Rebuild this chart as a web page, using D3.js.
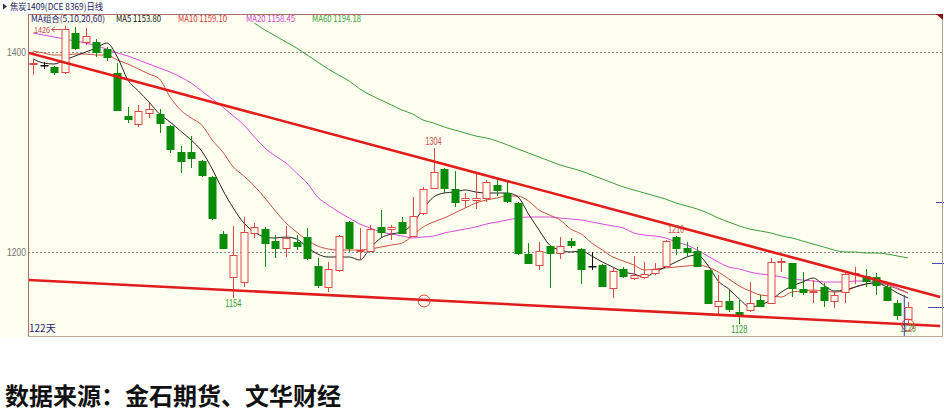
<!DOCTYPE html>
<html>
<head>
<meta charset="utf-8">
<script src="https://cdn.jsdelivr.net/npm/d3@7"></script>
<style>
  body { margin: 0; background: #ffffff; }
  svg { display: block; }
</style>
</head>
<body>
<div id="chart"></div>
<script>
// daily candles
const open = [1388, 1387, 1385, 1380, 1419, 1410, 1410, 1403, 1379, 1336, 1328, 1339, 1338, 1326, 1300, 1300, 1291, 1275, 1218, 1175,
  1170, 1219, 1223, 1211, 1204, 1210, 1215, 1186, 1165, 1182, 1230, 1201, 1201, 1225, 1223, 1230, 1216, 1239, 1264, 1283,
  1263, 1252, 1252, 1254, 1267, 1259, 1249, 1198, 1187, 1206, 1199, 1211, 1203, 1186, 1187, 1164, 1183, 1174, 1175, 1179,
  1186, 1215, 1204, 1201, 1182, 1146, 1151, 1140, 1142, 1152, 1149, 1190, 1189, 1163, 1160, 1165, 1151, 1160, 1178, 1176,
  1175, 1165, 1149, 1133];
const high = [1392, 1390, 1386, 1426, 1425, 1424, 1413, 1405, 1389, 1345, 1347, 1349, 1343, 1327, 1306, 1316, 1292, 1276, 1221, 1226,
  1235, 1229, 1225, 1217, 1226, 1217, 1224, 1194, 1190, 1217, 1231, 1224, 1227, 1242, 1227, 1235, 1255, 1265, 1304, 1284,
  1281, 1259, 1278, 1272, 1274, 1270, 1250, 1209, 1210, 1207, 1215, 1214, 1204, 1200, 1188, 1185, 1185, 1196, 1190, 1189,
  1212, 1216, 1210, 1205, 1182, 1177, 1162, 1152, 1170, 1157, 1194, 1194, 1189, 1180, 1172, 1169, 1160, 1179, 1185, 1183,
  1179, 1170, 1152, 1150];
const low = [1377, 1383, 1377, 1378, 1402, 1407, 1395, 1391, 1341, 1329, 1325, 1334, 1319, 1299, 1279, 1284, 1275, 1232, 1203, 1154,
  1165, 1214, 1185, 1194, 1195, 1202, 1192, 1164, 1160, 1180, 1200, 1192, 1200, 1215, 1212, 1218, 1215, 1237, 1263, 1259,
  1245, 1244, 1243, 1250, 1256, 1249, 1197, 1189, 1182, 1164, 1193, 1204, 1168, 1182, 1165, 1154, 1174, 1172, 1173, 1177,
  1185, 1197, 1195, 1185, 1148, 1136, 1140, 1128, 1140, 1145, 1149, 1180, 1155, 1157, 1149, 1145, 1144, 1149, 1168, 1165,
  1157, 1151, 1132, 1129];
const close = [1389, 1387, 1380, 1423, 1404, 1416, 1400, 1395, 1342, 1333, 1341, 1343, 1329, 1303, 1291, 1294, 1277, 1234, 1204, 1197,
  1220, 1225, 1209, 1204, 1214, 1206, 1194, 1167, 1183, 1216, 1204, 1202, 1223, 1220, 1225, 1219, 1236, 1263, 1280, 1264,
  1250, 1254, 1254, 1270, 1262, 1251, 1199, 1189, 1201, 1199, 1206, 1207, 1183, 1186, 1166, 1181, 1176, 1177, 1178, 1183,
  1211, 1204, 1200, 1186, 1149, 1151, 1143, 1137, 1149, 1146, 1190, 1191, 1164, 1160, 1161, 1152, 1157, 1178, 1179, 1171,
  1167, 1152, 1137, 1145];

// moving averages as drawn on the chart
const ma5 = [1393, 1389, 1388, 1392, 1396, 1400, 1404, 1409, 1395, 1372, 1361, 1350, 1338, 1330, 1321, 1312, 1301, 1283, 1262, 1244,
  1229, 1220, 1215, 1214, 1215, 1213, 1205, 1198, 1195, 1195, 1195, 1192, 1204, 1214, 1218, 1220, 1228, 1243, 1255, 1259,
  1260, 1262, 1260, 1259, 1259, 1259, 1255, 1238, 1222, 1207, 1202, 1200, 1201, 1196, 1190, 1185, 1180, 1178, 1175, 1180,
  1185, 1190, 1195, 1197, 1187, 1171, 1163, 1153, 1145, 1147, 1152, 1160, 1166, 1170, 1174, 1167, 1161, 1162, 1165, 1168,
  1169, 1165, 1159, 1154];
const ma10 = [1401, 1399, 1397, 1397, 1398, 1398, 1397, 1397, 1392, 1388, 1383, 1378, 1373, 1355, 1342, 1334, 1327, 1312, 1300, 1285,
  1276, 1266, 1254, 1241, 1229, 1220, 1212, 1206, 1203, 1202, 1202, 1202, 1203, 1205, 1207, 1209, 1216, 1225, 1230, 1234,
  1239, 1244, 1249, 1252, 1254, 1256, 1256, 1251, 1242, 1237, 1232, 1223, 1218, 1209, 1202, 1195, 1191, 1187, 1182, 1183,
  1184, 1185, 1186, 1187, 1185, 1180, 1173, 1166, 1161, 1157, 1156, 1155, 1160, 1161, 1162, 1161, 1160, 1161, 1165, 1168,
  1169, 1167, 1163, 1159];
const ma20 = [1419, 1417, 1415, 1413, 1411, 1409, 1406, 1403, 1399, 1396, 1392, 1388, 1384, 1380, 1375, 1369, 1361, 1353, 1345, 1336,
  1327, 1315, 1304, 1296, 1289, 1279, 1269, 1255, 1247, 1240, 1234, 1228, 1224, 1220, 1218, 1216, 1214, 1215, 1216, 1219,
  1221, 1223, 1225, 1228, 1230, 1232, 1234, 1235, 1235, 1235, 1234, 1233, 1232, 1230, 1228, 1226, 1224, 1219, 1217, 1216,
  1214, 1210, 1207, 1202, 1196, 1190, 1185, 1183, 1180, 1178, 1177, 1175, 1173, 1172, 1171, 1170, 1170, 1170, 1171, 1171,
  1170, 1168, 1164, 1159];
const ma60 = [null, null, null, null, null, null, null, null, null, null, null, null, null, null, null, null, null, null, null, null,
  null, 1429, 1422, 1416, 1410, 1404, 1397, 1390, 1383, 1377, 1371, 1363, 1357, 1352, 1347, 1342, 1338, 1332, 1329, 1325,
  1322, 1319, 1316, 1314, 1311, 1307, 1303, 1299, 1295, 1291, 1287, 1284, 1281, 1277, 1273, 1269, 1265, 1262, 1259, 1256,
  1253, 1249, 1246, 1243, 1239, 1234, 1230, 1226, 1223, 1221, 1219, 1216, 1214, 1211, 1208, 1205, 1202, 1200, 1200, 1199,
  1199, 1198, 1196, 1194];

const yTicks = [1200, 1400];
const legend = [
  { text: "MA组合(5,10,20,60)", color: "#1a1a6a" },
  { text: "MA5 1153.80", color: "#111111" },
  { text: "MA10 1159.10", color: "#d23a3a" },
  { text: "MA20 1158.45", color: "#d040d0" },
  { text: "MA60 1194.18", color: "#3a9a3a" },
];
// hand-drawn trend lines [candle index, price]
const upperTrend = [[-0.38, 1399], [86.05, 1155]];
const lowerTrend = [[-0.47, 1172], [86.05, 1126]];
const highMarks = [{ i: 38, v: 1304 }, { i: 61, v: 1216 }];
const lowMarks = [{ i: 19, v: 1154 }, { i: 67, v: 1128 }, { i: 83, v: 1129 }];
const circles = [{ i: 37.1, v: 1151 }, { i: 83, v: 1127 }];

const width = 944;
const height = 419;
const plotLeft = 28;
const plotRight = 942;
const plotTop = 14;
const plotBottom = 336;

const upColor = "#e04848";
const downColor = "#0a8c0a";
const bg = "#fffff0";
const numFont = "'Liberation Sans', Arial, sans-serif";

const x = d3.scaleLinear().domain([0, open.length - 1]).range([33, 908]);
const y = d3.scaleLinear().domain([1200, 1400]).range([252, 52]);

const svg = d3
  .create("svg")
  .attr("width", width)
  .attr("height", height)
  .attr("viewBox", [0, 0, width, height])
  .style("font-family", numFont);

svg.append("rect").attr("x", 0).attr("y", plotTop).attr("width", width).attr("height", plotBottom - plotTop + 1).attr("fill", bg);

svg.append("defs").append("clipPath").attr("id", "plot")
  .append("rect")
  .attr("x", plotLeft + 1)
  .attr("y", plotTop + 9)
  .attr("width", plotRight - plotLeft - 1)
  .attr("height", plotBottom - plotTop - 9);

// dotted grid
svg.append("g")
  .selectAll("line")
  .data(yTicks)
  .join("line")
  .attr("x1", plotLeft)
  .attr("x2", plotRight)
  .attr("y1", (d) => Math.round(y(d)) + 0.5)
  .attr("y2", (d) => Math.round(y(d)) + 0.5)
  .attr("stroke", "#8a8a8a")
  .attr("stroke-dasharray", "2,2");

// y axis labels
svg.append("g")
  .attr("transform", `translate(${plotLeft},0)`)
  .call(d3.axisLeft(y).tickValues(yTicks).tickSize(0).tickPadding(2).tickFormat(d3.format("d")))
  .call((g) => g.select(".domain").remove())
  .call((g) => g.selectAll("text")
    .attr("fill", "#707070")
    .attr("font-size", 10)
    .attr("font-family", numFont)
    .attr("textLength", 19)
    .attr("lengthAdjust", "spacingAndGlyphs"));

const plot = svg.append("g").attr("clip-path", "url(#plot)");

// moving averages
const line = d3
  .line()
  .defined((d) => d != null)
  .x((d, i) => x(i))
  .y((d) => y(d))
  .curve(d3.curveMonotoneX);

[
  [ma60, "#3a9a3a"],
  [ma20, "#d848d8"],
  [ma10, "#c85040"],
  [ma5, "#222222"],
].forEach(([series, color]) => {
  plot.append("path")
    .datum(series)
    .attr("fill", "none")
    .attr("stroke", color)
    .attr("stroke-width", 1)
    .attr("d", line);
});

// candles
const candles = plot
  .append("g")
  .selectAll("g")
  .data(open.map((o, i) => ({ i, o, h: high[i], l: low[i], c: close[i] })))
  .join("g")
  .attr("transform", (d) => `translate(${Math.round(x(d.i)) + 0.5},0)`);

const colorOf = (d) => (d.c > d.o ? upColor : d.c < d.o ? downColor : "#111");

candles.append("line")
  .attr("y1", (d) => y(d.h))
  .attr("y2", (d) => y(d.l))
  .attr("stroke", colorOf);

candles.append("rect")
  .attr("x", -3.5)
  .attr("width", 7)
  .attr("y", (d) => Math.round(y(Math.max(d.o, d.c))) + 0.5)
  .attr("height", (d) => Math.max(0.5, Math.round(Math.abs(y(d.o) - y(d.c)))))
  .attr("fill", (d) => (d.c > d.o ? bg : colorOf(d)))
  .attr("stroke", colorOf);

// trend lines
const straight = d3.line().x((d) => x(d[0])).y((d) => y(d[1]));
[upperTrend, lowerTrend].forEach((t) => {
  plot.append("path")
    .attr("d", straight(t))
    .attr("stroke", "#e01c1c")
    .attr("stroke-width", 2.6)
    .attr("fill", "none");
});

// marked highs / lows
const priceLabel = (sel) =>
  sel.attr("text-anchor", "middle")
    .attr("font-size", 10)
    .attr("textLength", 16)
    .attr("lengthAdjust", "spacingAndGlyphs")
    .text((d) => d.v);

plot.append("g")
  .selectAll("text")
  .data(highMarks)
  .join("text")
  .attr("x", (d) => x(d.i))
  .attr("y", (d) => y(d.v) - 3)
  .attr("fill", "#c84848")
  .call(priceLabel);

plot.append("g")
  .selectAll("text")
  .data(lowMarks)
  .join("text")
  .attr("x", (d) => x(d.i))
  .attr("y", (d) => y(d.v) + 9)
  .attr("fill", "#3a9a3a")
  .call(priceLabel);

plot.append("g")
  .selectAll("circle")
  .data(circles)
  .join("circle")
  .attr("cx", (d) => x(d.i))
  .attr("cy", (d) => y(d.v))
  .attr("r", 6)
  .attr("fill", "none")
  .attr("stroke", "#e04040")
  .attr("stroke-width", 1);

// 1426 with arrow pointing at the top candle
svg.append("text")
  .attr("x", 34)
  .attr("y", y(1426) + 7)
  .attr("font-size", 9)
  .attr("textLength", 16)
  .attr("lengthAdjust", "spacingAndGlyphs")
  .attr("fill", "#c84848")
  .text("1426");
svg.append("path")
  .attr("d", `M${x(3) - 3},${y(1426) + 3.5}H${x(3) - 13}l3,-2.5M${x(3) - 13},${y(1426) + 3.5}l3,2.5`)
  .attr("stroke", "#c84848")
  .attr("fill", "none");

// cursor line and right-edge markers
svg.append("line")
  .attr("x1", x(82.6) + 0.5)
  .attr("x2", x(82.6) + 0.5)
  .attr("y1", y(1157))
  .attr("y2", plotBottom + 1)
  .attr("stroke", "#3a3ab0");

svg.append("g")
  .selectAll("line")
  .data([[1250, 6], [1189, 10], [1145, 14]])
  .join("line")
  .attr("x1", (d) => plotRight - d[1])
  .attr("x2", plotRight + 2)
  .attr("y1", (d) => Math.round(y(d[0])) + 0.5)
  .attr("y2", (d) => Math.round(y(d[0])) + 0.5)
  .attr("stroke", "#4a4ac0");

// frame
svg.append("line").attr("x1", plotLeft).attr("x2", plotRight).attr("y1", plotTop + 0.5).attr("y2", plotTop + 0.5).attr("stroke", "#a87060");
svg.append("line").attr("x1", plotLeft + 0.5).attr("x2", plotLeft + 0.5).attr("y1", plotTop).attr("y2", plotBottom + 1).attr("stroke", "#a87060");
svg.append("line").attr("x1", plotLeft).attr("x2", plotRight).attr("y1", plotBottom + 0.5).attr("y2", plotBottom + 0.5).attr("stroke", "#c8a898");
svg.append("line").attr("x1", plotRight + 0.5).attr("x2", plotRight + 0.5).attr("y1", plotTop).attr("y2", plotBottom + 1).attr("stroke", "#b0a0a0");
svg.append("path").attr("d", `M${plotRight - 6},${plotTop}H${plotRight + 1}V${plotTop + 6}Z`).attr("fill", "#8a1010");

// title and legend
svg.append("path").attr("d", "M3,3.5L7,6.5L3,9.5Z").attr("fill", "#333");
svg.append("text")
  .attr("x", 10)
  .attr("y", 9.5)
  .attr("font-size", 9)
  .attr("font-family", "'Noto Sans CJK SC', sans-serif")
  .attr("textLength", 93)
  .attr("lengthAdjust", "spacingAndGlyphs")
  .attr("fill", "#1a1a5a")
  .text("焦炭1409(DCE 8369)日线");

const legendX = [31, 116, 178, 246, 312];
const legendW = [74, 45, 49, 49, 49];
svg.append("g")
  .selectAll("text")
  .data(legend)
  .join("text")
  .attr("x", (d, i) => legendX[i])
  .attr("y", 21.5)
  .attr("font-size", 8.5)
  .attr("font-family", "'Noto Sans CJK SC', 'Liberation Sans', sans-serif")
  .attr("textLength", (d, i) => legendW[i])
  .attr("lengthAdjust", "spacingAndGlyphs")
  .attr("fill", (d) => d.color)
  .text((d) => d.text);

svg.append("text")
  .attr("x", plotLeft + 1)
  .attr("y", 332)
  .attr("font-size", 10)
  .attr("font-family", "'Noto Sans CJK SC', sans-serif")
  .attr("fill", "#1a1a7a")
  .text("122天");

// source note
svg.append("text")
  .attr("x", 5)
  .attr("y", 405)
  .attr("font-size", 24)
  .attr("font-weight", "bold")
  .attr("font-family", "'Noto Sans CJK SC', sans-serif")
  .attr("fill", "#111")
  .text("数据来源：金石期货、文华财经");

document.getElementById("chart").append(svg.node());
</script>
</body>
</html>
